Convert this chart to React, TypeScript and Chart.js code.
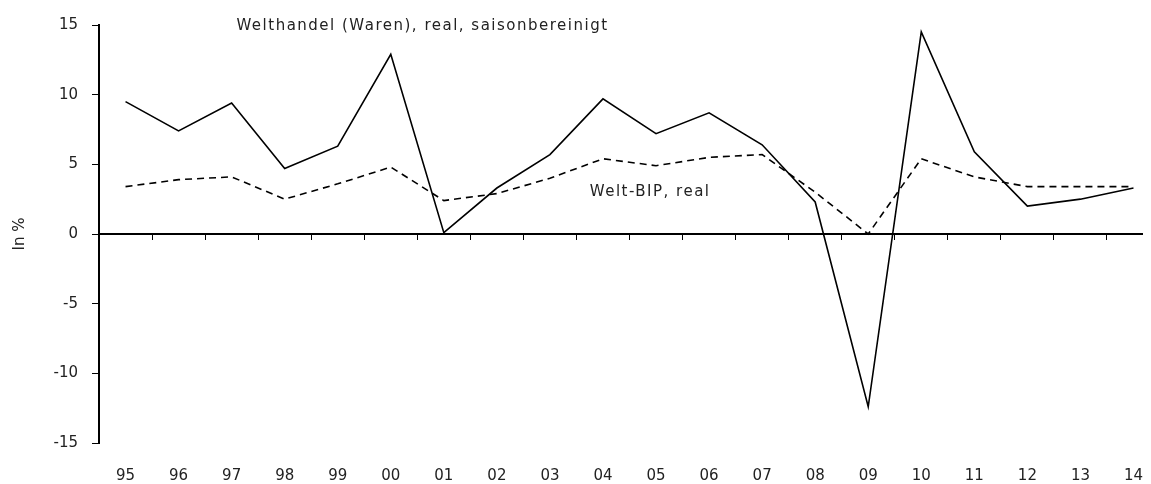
import React, { useEffect, useRef } from "react";
import { Chart, registerables } from "chart.js";

Chart.register(...registerables);

const categories = ["95", "96", "97", "98", "99", "00", "01", "02", "03", "04", "05", "06", "07", "08", "09", "10", "11", "12", "13", "14"];
const worldTrade = [9.5, 7.4, 9.4, 4.7, 6.3, 12.9, 0.1, 3.3, 5.7, 9.7, 7.2, 8.7, 6.4, 2.3, -12.4, 14.5, 5.9, 2.0, 2.5, 3.3];
const worldGdp = [3.4, 3.9, 4.1, 2.5, 3.6, 4.8, 2.4, 2.9, 4.0, 5.4, 4.9, 5.5, 5.7, 3.0, 0.0, 5.4, 4.1, 3.4, 3.4, 3.4];
const yMin = -15;
const yMax = 15;
const yStep = 5;
const yTitle = "In %";
const tradeLabel = "Welthandel (Waren), real, saisonbereinigt";
const gdpLabel = "Welt-BIP, real";
// annotation anchors in data coordinates (category index, value)
const tradeLabelPos = [2.09, 14.95];
const gdpLabelPos = [8.75, 3.0];

const FONT = "'DejaVu Sans', sans-serif";
const TEXT = "#222";

const labelsPlugin = {
  id: "seriesLabels",
  afterDatasetsDraw(chart: any) {
    const { ctx, scales } = chart;
    const x = scales.x;
    const y = scales.y;
    ctx.save();
    ctx.font = `15px ${FONT}`;
    ctx.fillStyle = TEXT;
    ctx.textAlign = "left";
    ctx.textBaseline = "middle";
    try {
      (ctx as any).letterSpacing = "1.5px";
    } catch (e) {}
    ctx.fillText(tradeLabel, x.getPixelForValue(tradeLabelPos[0]), y.getPixelForValue(tradeLabelPos[1]));
    ctx.fillText(gdpLabel, x.getPixelForValue(gdpLabelPos[0]), y.getPixelForValue(gdpLabelPos[1]));
    try {
      (ctx as any).letterSpacing = "0px";
    } catch (e) {}
    ctx.restore();
  },
};

export default function App() {
  const ref = useRef<HTMLCanvasElement | null>(null);

  useEffect(() => {
    if (!ref.current) return;
    const chart = new Chart(ref.current, {
      type: "line",
      data: {
        labels: categories,
        datasets: [
          { label: tradeLabel, data: worldTrade, borderColor: "#000", borderWidth: 1.6, pointRadius: 0, tension: 0, fill: false, xAxisID: "x", yAxisID: "y" },
          { label: gdpLabel, data: worldGdp, borderColor: "#000", borderWidth: 1.6, borderDash: [7, 5], pointRadius: 0, tension: 0, fill: false, xAxisID: "x", yAxisID: "y" },
        ],
      },
      options: {
        animation: false,
        responsive: true,
        maintainAspectRatio: false,
        layout: { padding: { top: 17, right: 0, bottom: 0, left: 0 } },
        plugins: { legend: { display: false }, tooltip: { enabled: false }, title: { display: false } },
        scales: {
          x: {
            type: "category",
            position: "bottom",
            offset: true,
            grid: { display: false, drawTicks: false },
            border: { display: false },
            ticks: { color: TEXT, font: { family: FONT, size: 15 }, padding: 24, maxRotation: 0, autoSkip: false },
            afterFit: (s: any) => {
              s.height = 41;
              s.paddingLeft = 0;
              s.paddingRight = 0;
            },
          },
          x2: {
            type: "category",
            labels: categories,
            position: { y: 0 } as any,
            offset: true,
            grid: { display: true, offset: true, drawOnChartArea: false, drawTicks: true, tickLength: 5, color: "#000", lineWidth: 1 },
            border: { display: true, color: "#000", width: 2 },
            ticks: { display: false, autoSkip: false },
            afterFit: (s: any) => {
              s.height = 0;
              s.paddingLeft = 0;
              s.paddingRight = 0;
            },
          },
          y: {
            type: "linear",
            min: yMin,
            max: yMax,
            ticks: { stepSize: yStep, color: TEXT, font: { family: FONT, size: 15 }, padding: 14 },
            grid: { display: true, drawOnChartArea: false, drawTicks: true, tickLength: 7, color: "#000", lineWidth: 1 },
            border: { display: true, color: "#000", width: 2 },
            title: { display: true, text: yTitle, color: TEXT, font: { family: FONT, size: 15 }, padding: { top: 3, bottom: 3 } },
            afterFit: (s: any) => {
              s.width = 91;
              s.paddingTop = 0;
              s.paddingBottom = 0;
            },
          },
        },
      },
      plugins: [labelsPlugin],
    });
    return () => chart.destroy();
  }, []);

  return (
    <div style={{ position: "absolute", left: 8, top: 8, width: 1135, height: 476, overflow: "hidden" }}>
      <div style={{ width: 1152, height: 476, position: "relative" }}>
        <canvas ref={ref} />
      </div>
    </div>
  );
}
